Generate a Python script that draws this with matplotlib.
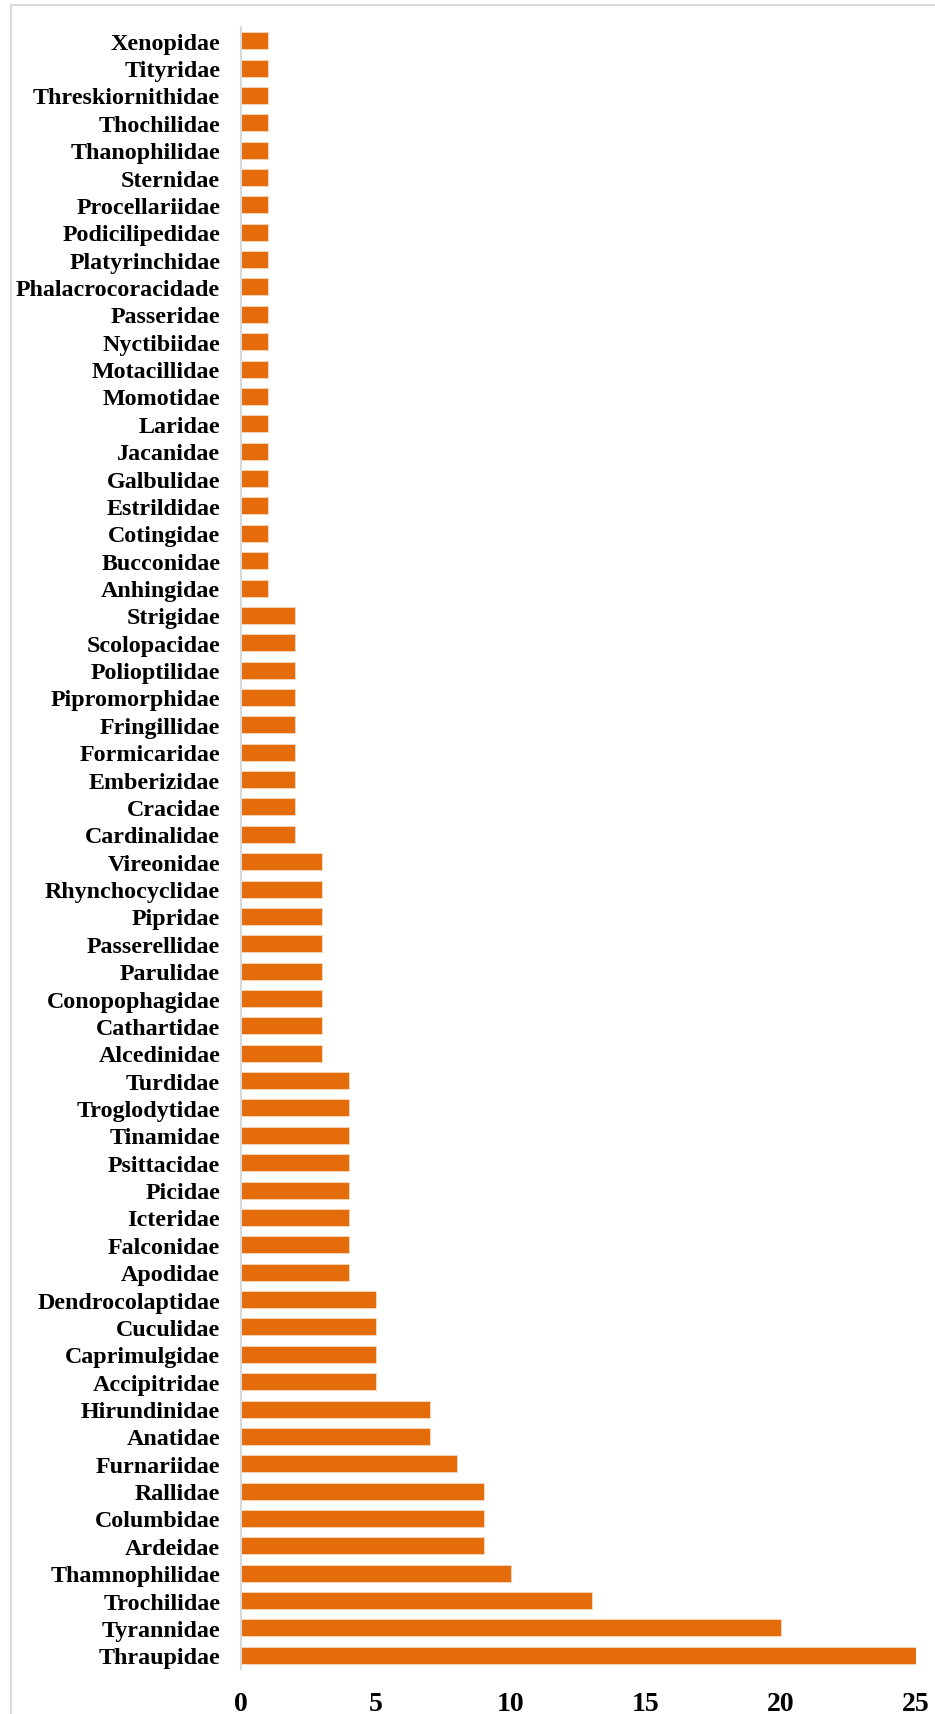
import matplotlib.pyplot as plt
from matplotlib.patches import Rectangle

# === Data (top to bottom as in the chart) ===
families = [
    "Xenopidae", "Tityridae", "Threskiornithidae", "Thochilidae", "Thanophilidae",
    "Sternidae", "Procellariidae", "Podicilipedidae", "Platyrinchidae",
    "Phalacrocoracidade", "Passeridae", "Nyctibiidae", "Motacillidae", "Momotidae",
    "Laridae", "Jacanidae", "Galbulidae", "Estrildidae", "Cotingidae", "Bucconidae",
    "Anhingidae",
    "Strigidae", "Scolopacidae", "Polioptilidae", "Pipromorphidae", "Fringillidae",
    "Formicaridae", "Emberizidae", "Cracidae", "Cardinalidae",
    "Vireonidae", "Rhynchocyclidae", "Pipridae", "Passerellidae", "Parulidae",
    "Conopophagidae", "Cathartidae", "Alcedinidae",
    "Turdidae", "Troglodytidae", "Tinamidae", "Psittacidae", "Picidae", "Icteridae",
    "Falconidae", "Apodidae",
    "Dendrocolaptidae", "Cuculidae", "Caprimulgidae", "Accipitridae",
    "Hirundinidae", "Anatidae", "Furnariidae", "Rallidae", "Columbidae", "Ardeidae",
    "Thamnophilidae", "Trochilidae", "Tyrannidae", "Thraupidae",
]
counts = [
    1, 1, 1, 1, 1, 1, 1, 1, 1, 1, 1, 1, 1, 1, 1, 1, 1, 1, 1, 1, 1,
    2, 2, 2, 2, 2, 2, 2, 2, 2,
    3, 3, 3, 3, 3, 3, 3, 3,
    4, 4, 4, 4, 4, 4, 4, 4,
    5, 5, 5, 5,
    7, 7, 8, 9, 9, 9,
    10, 13, 20, 25,
]
x_ticks = [0, 5, 10, 15, 20, 25]

BAR_COLOR = "#E46C0A"
W, H = 935, 1715

plt.rcParams["font.family"] = ["Liberation Serif", "DejaVu Serif"]
plt.rcParams["font.weight"] = "bold"

fig = plt.figure(figsize=(W / 100, H / 100), dpi=100)
ax = fig.add_axes([241 / W, 1 - 1670 / H, (916 - 241) / W, (1670 - 28) / H])

y = list(range(len(families)))
ax.barh(y, counts, height=0.62, color=BAR_COLOR, edgecolor="#F6D9C2", linewidth=0.6)

ax.set_ylim(len(families) - 0.5, -0.5)
ax.set_xlim(0, 25)
ax.set_yticks(y)
ax.set_yticklabels(families, fontsize=17.3, fontweight="bold")
ax.set_xticks(x_ticks)
ax.set_xticklabels([str(t) for t in x_ticks], fontsize=20, fontweight="bold")
ax.tick_params(axis="y", length=0, pad=15)
ax.tick_params(axis="x", length=0, pad=16)

for side in ["top", "right", "bottom"]:
    ax.spines[side].set_visible(False)
ax.spines["left"].set_color("#D9D9D9")
ax.spines["left"].set_linewidth(1.5)

# light chart-area border
fig.patches.append(Rectangle((11 / W, -0.01), 1.1, 1 - 6 / H + 0.01,
                             transform=fig.transFigure, fill=False,
                             edgecolor="#D9D9D9", linewidth=1.5))

fig.savefig("out.png", dpi=100)
